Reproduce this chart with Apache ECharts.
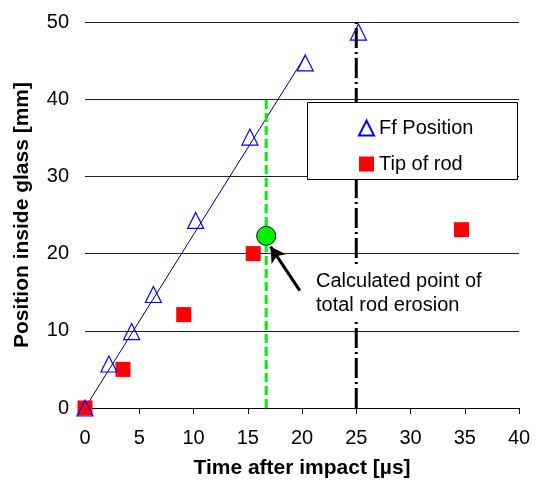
<!DOCTYPE html>
<html>
<head>
<meta charset="utf-8">
<script src="https://cdn.jsdelivr.net/npm/echarts@6/dist/echarts.min.js"></script>
<style>
html, body { margin: 0; padding: 0; background: #fff; }
#main { width: 538px; height: 485px; }
</style>
</head>
<body>
<div id="main"></div>
<script>
// values
var ffPosition = [[0, 0], [2.2, 5.7], [4.3, 9.9], [6.3, 14.7], [10.2, 24.3], [15.2, 35.1], [20.3, 44.7], [25.2, 48.7]];
var tipOfRod = [[0, 0], [3.5, 5.0], [9.1, 12.1], [15.5, 20.0], [34.7, 23.1]];
var fitLine = [[0, 0], [20.3, 45.6]];
var erosionPoint = [[16.7, 22.3]];
var erosionLine = [[16.7, 0], [16.7, 40]];
var impactLine = [[25, 0], [25, 50]];
var arrowLine = [[19.8, 15.2], [17.1, 20.9]];

var font = 'Liberation Sans, Arial, sans-serif';

var myChart = echarts.init(document.getElementById('main'));
var option = {
	backgroundColor: '#fff',
	animation: false,
	grid: { left: 85, right: 19, top: 22, bottom: 77 },
	legend: {
		data: ['Ff Position', 'Tip of rod'],
		orient: 'vertical',
		left: 353,
		top: 113,
		itemWidth: 15,
		itemHeight: 15,
		itemGap: 16,
		selectedMode: false,
		z: 200,
		textStyle: { color: '#000', fontSize: 20, fontFamily: font }
	},
	xAxis: {
		type: 'value',
		min: 0,
		max: 40,
		interval: 5,
		name: 'Time after impact [µs]',
		nameLocation: 'middle',
		nameGap: 50,
		nameTextStyle: { color: '#000', fontSize: 21, fontWeight: 'bold', fontFamily: font },
		axisLine: { show: true, onZero: false, lineStyle: { color: '#000', width: 1 } },
		axisTick: { show: true, length: 6, lineStyle: { color: '#000' } },
		axisLabel: { color: '#000', fontSize: 20, fontFamily: font, margin: 20 },
		splitLine: { show: false }
	},
	yAxis: {
		type: 'value',
		min: 0,
		max: 50,
		interval: 10,
		name: 'Position inside glass [mm]',
		nameLocation: 'middle',
		nameGap: 52,
		nameTextStyle: { color: '#000', fontSize: 21, fontWeight: 'bold', fontFamily: font },
		axisLine: { show: false },
		axisTick: { show: false },
		axisLabel: { color: '#000', fontSize: 20, fontFamily: font, margin: 16 },
		splitLine: { show: true, lineStyle: { color: '#222', width: 1 } }
	},
	graphic: [
		{
			type: 'rect',
			z: 100,
			shape: { x: 307.5, y: 102.5, width: 210, height: 77 },
			style: { fill: '#fff', stroke: '#000', lineWidth: 1 }
		},
		{
			type: 'text',
			z: 100,
			left: 310,
			top: 266,
			style: {
				text: 'Calculated point of\ntotal rod erosion',
				fill: '#000',
				font: '20px ' + font,
				lineHeight: 24,
				backgroundColor: '#fff',
				padding: [3, 6, 3, 6]
			}
		}
	],
	series: [
		{
			name: 'fit',
			type: 'line',
			data: fitLine,
			symbol: 'none',
			clip: false,
			lineStyle: { color: '#000080', width: 1 },
			z: 3
		},
		{
			name: 'erosion line',
			type: 'line',
			data: erosionLine,
			symbol: 'none',
			clip: false,
			lineStyle: { color: '#00f000', width: 3, type: [9, 4] },
			z: 3
		},
		{
			name: 'impact line',
			type: 'line',
			data: impactLine,
			symbol: 'none',
			clip: false,
			lineStyle: { color: '#000', width: 3, type: [20, 4, 2, 4] },
			z: 3
		},
		{
			name: 'Tip of rod',
			type: 'scatter',
			data: tipOfRod,
			symbol: 'rect',
			symbolSize: 15,
			clip: false,
			itemStyle: { color: '#ff0000', opacity: 1 },
			z: 4
		},
		{
			name: 'Ff Position',
			type: 'scatter',
			data: ffPosition,
			symbol: 'triangle',
			symbolSize: 16,
			clip: false,
			itemStyle: { color: 'rgba(255,255,255,0)', borderColor: '#0000ff', borderWidth: 1.2, opacity: 1 },
			z: 5
		},
		{
			name: 'erosion point',
			type: 'scatter',
			data: erosionPoint,
			symbol: 'circle',
			symbolSize: 19,
			clip: false,
			itemStyle: { color: '#00f000', borderColor: '#000', borderWidth: 1, opacity: 1 },
			z: 6,
			markLine: {
				silent: true,
				symbol: ['none', 'arrow'],
				symbolSize: [13, 15],
				label: { show: false },
				lineStyle: { color: '#000', width: 3, type: 'solid' },
				data: [[{ coord: arrowLine[0] }, { coord: arrowLine[1] }]]
			}
		}
	]
};
myChart.setOption(option, true);
</script>
</body>
</html>
